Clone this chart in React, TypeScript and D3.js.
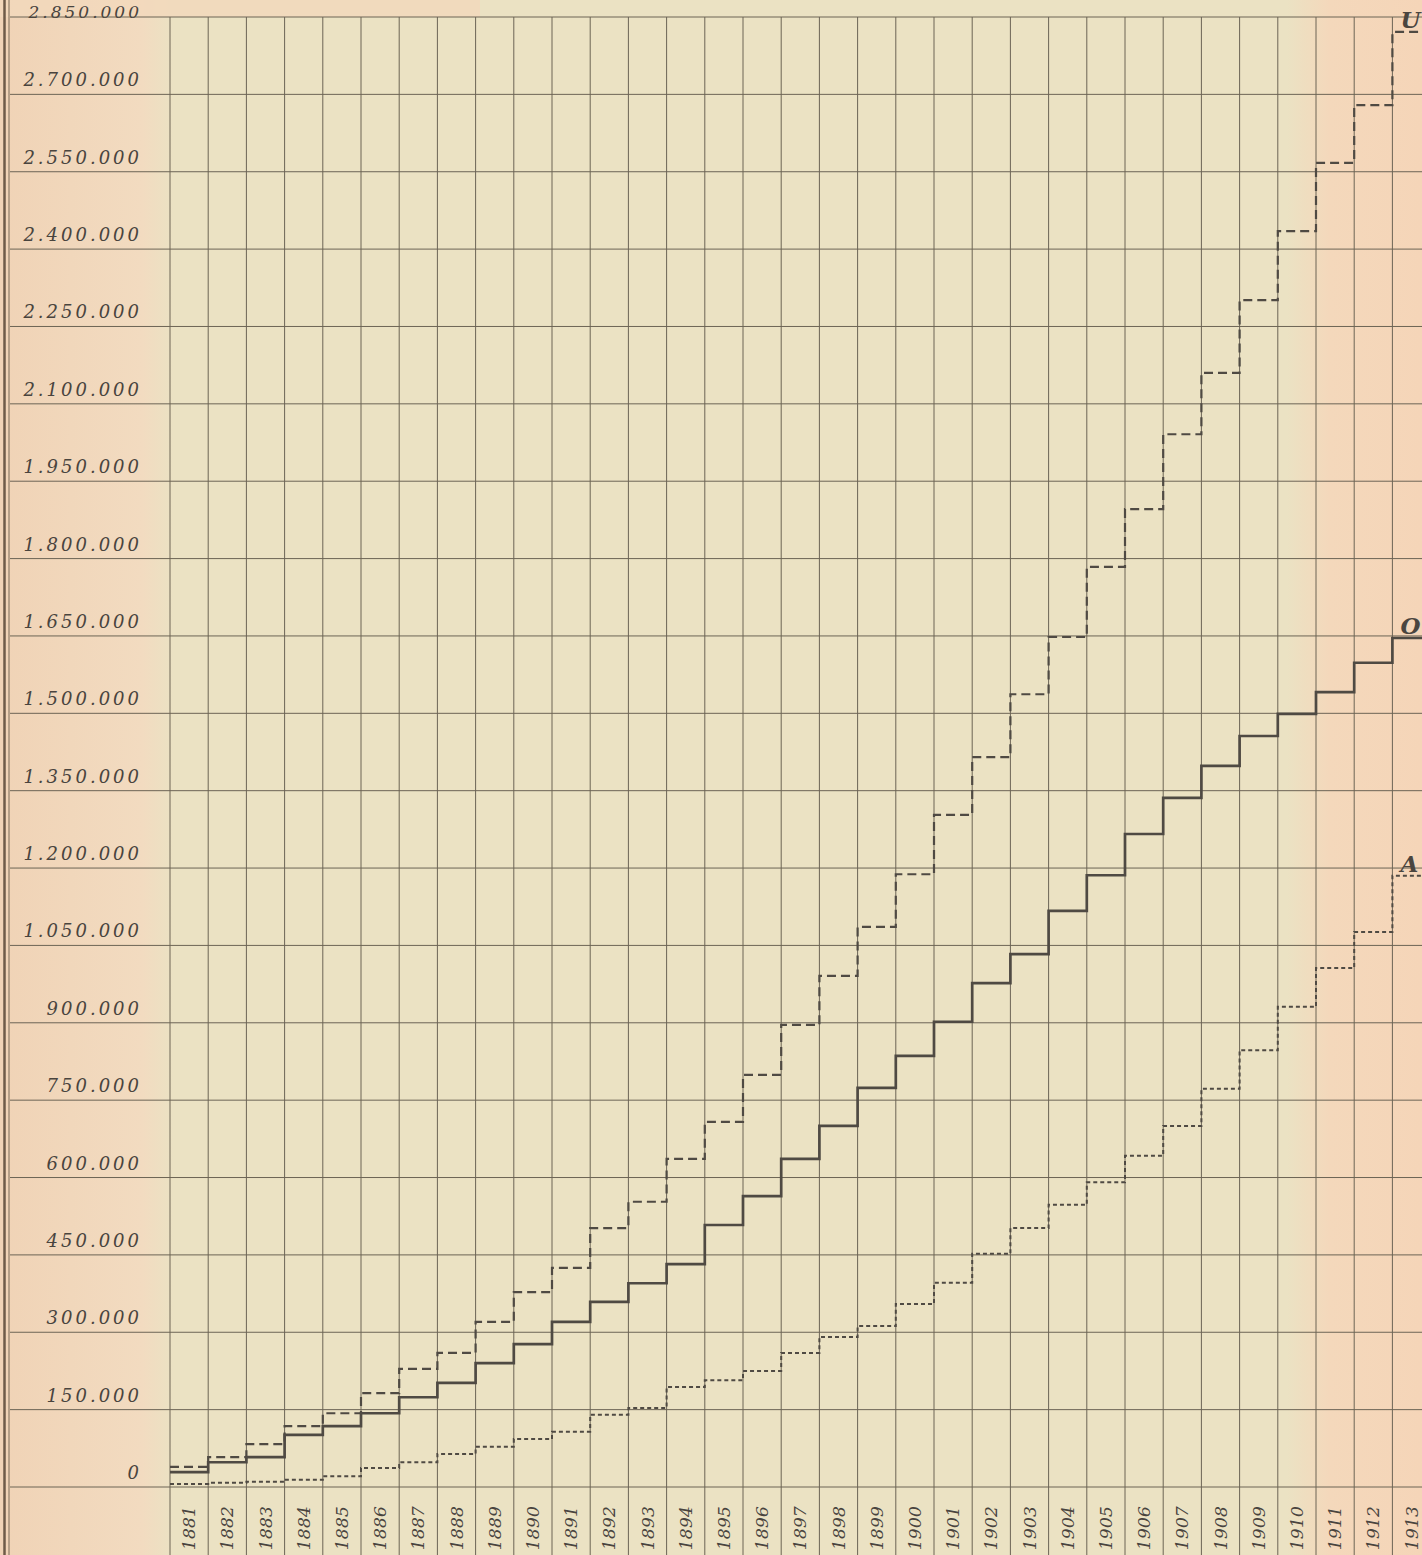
import React from "react";
import * as d3 from "d3";

const years = [1881,1882,1883,1884,1885,1886,1887,1888,1889,1890,1891,1892,1893,1894,1895,1896,1897,1898,1899,1900,1901,1902,1903,1904,1905,1906,1907,1908,1909,1910,1911,1912,1913];

const seriesU = [39000,58000,83000,118000,143000,182000,229000,260000,320000,378000,425000,502000,553000,636000,708000,799000,896000,991000,1086000,1188000,1303000,1415000,1537000,1648000,1784000,1896000,2041000,2160000,2301000,2435000,2567000,2679000,2821000];
const seriesO = [29000,48000,58000,101000,118000,143000,174000,202000,240000,277000,320000,359000,395000,432000,508000,564000,636000,700000,774000,836000,902000,977000,1033000,1117000,1186000,1266000,1336000,1398000,1456000,1499000,1541000,1598000,1646000];
const seriesA = [6000,8000,10000,14000,21000,37000,48000,64000,78000,93000,107000,140000,153000,194000,207000,225000,260000,291000,312000,355000,396000,452000,502000,547000,591000,642000,700000,772000,847000,931000,1006000,1076000,1185000];

const yTicks = [0,150000,300000,450000,600000,750000,900000,1050000,1200000,1350000,1500000,1650000,1800000,1950000,2100000,2250000,2400000,2550000,2700000,2850000];

const seriesNames = ["U", "O", "A"];

const W = 1422;
const H = 1555;

export default function App() {
  const colW = 38.2;
  const x = d3.scaleBand<number>().domain(years).range([170, 170 + colW * years.length]).padding(0);
  const y = d3.scaleLinear().domain([0, 2850000]).range([1487, 17]);
  const loc = d3.formatLocale({ decimal: ",", thousands: ".", grouping: [3], currency: ["", ""] });
  const fmt = loc.format(",d");

  const mk = (vals: number[]) => {
    const pts: [number, number][] = years.map((yr, i) => [x(yr)!, y(vals[i])]);
    const last = years[years.length - 1];
    pts.push([x(last)! + x.bandwidth(), y(vals[vals.length - 1])]);
    return d3.line<[number, number]>().x(d => d[0]).y(d => d[1]).curve(d3.curveStepAfter)(pts) || "";
  };

  const ink = "#4f4a43";
  const grid = "#6c6455";
  const series = [
    { name: seriesNames[0], vals: seriesU, dash: "9,5", w: 2.2 },
    { name: seriesNames[1], vals: seriesO, dash: "", w: 2.7 },
    { name: seriesNames[2], vals: seriesA, dash: "4,3", w: 2.0 },
  ];
  const lastX = x(years[years.length - 1])!;
  const vLines = [...years.map(yr => x(yr)!), lastX + x.bandwidth()];
  const serif = "'DejaVu Serif', 'Liberation Serif', serif";

  return (
    <svg width={W} height={H} style={{ position: "absolute", left: 0, top: 0 }} xmlns="http://www.w3.org/2000/svg">
      <defs>
        <linearGradient id="bg" x1="0" x2="1" y1="0" y2="0">
          <stop offset="0" stopColor="#f0d3b6" />
          <stop offset="0.1" stopColor="#f2dbc0" />
          <stop offset="0.122" stopColor="#ebe2c3" />
          <stop offset="0.905" stopColor="#ebe2c3" />
          <stop offset="0.935" stopColor="#f4d8bb" />
          <stop offset="1" stopColor="#f5d5b8" />
        </linearGradient>
      </defs>
      <rect x={0} y={0} width={W} height={H} fill="url(#bg)" />
      <rect x={0} y={0} width={480} height={17} fill="#f3d8bc" opacity={0.8} />

      {/* left border */}
      <line x1={4.5} x2={4.5} y1={0} y2={H} stroke="#6e5b48" strokeWidth={2.5} />
      <line x1={9} x2={9} y1={0} y2={H} stroke="#7a6a56" strokeWidth={1} />

      {/* horizontal grid */}
      {yTicks.map(t => (
        <line key={"h" + t} x1={10} x2={W} y1={y(t)} y2={y(t)} stroke={grid} strokeWidth={1} />
      ))}
      {/* vertical grid */}
      {vLines.map((vx, i) => (
        <line key={"v" + i} x1={vx} x2={vx} y1={y(2850000)} y2={H} stroke={grid} strokeWidth={1} />
      ))}

      {/* y labels */}
      {yTicks.map(t => (
        <text key={"t" + t} x={142} y={t === 2850000 ? 17.5 : y(t) - 8} textAnchor="end" fontFamily={serif} fontStyle="italic"
          fontSize={t === 2850000 ? 17 : 18} letterSpacing={3} fill="#49443e">{fmt(t)}</text>
      ))}

      {/* year labels */}
      {years.map(yr => {
        const cx = x(yr)! + x.bandwidth() / 2;
        const cy = 1528;
        return (
          <text key={"y" + yr} x={cx} y={cy} transform={`rotate(-90, ${cx}, ${cy})`} textAnchor="middle" dominantBaseline="central"
            fontFamily={serif} fontStyle="italic" fontSize={17} letterSpacing={0.3} fill="#49443e">{yr}</text>
        );
      })}

      {/* series */}
      {series.map(s => (
        <path key={s.name} d={mk(s.vals)} fill="none" stroke={ink} strokeWidth={s.w} strokeDasharray={s.dash || undefined} />
      ))}

      {/* series labels */}
      {series.map(s => (
        <text key={"l" + s.name} x={lastX + 8} y={y(s.vals[s.vals.length - 1]) - 4} fontFamily={serif}
          fontStyle="italic" fontWeight="bold" fontSize={23} fill="#4a453f">{s.name}</text>
      ))}
    </svg>
  );
}
